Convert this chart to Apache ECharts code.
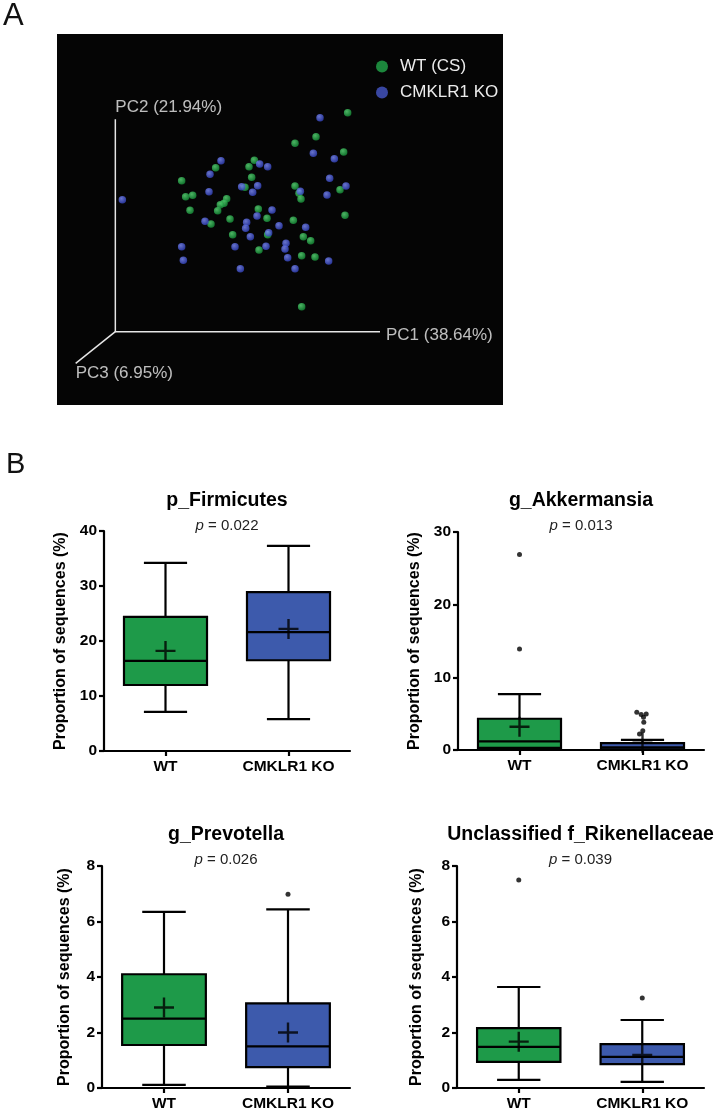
<!DOCTYPE html>
<html><head><meta charset="utf-8">
<script src="https://cdn.jsdelivr.net/npm/echarts/dist/echarts.min.js"></script>
<style>html,body{margin:0;padding:0;background:#fff}#c{width:721px;height:1114px}</style>
</head><body><div id="c"></div>
<script>
// ---------- Panel A: PCoA (projected coordinates, arbitrary units) ----------
const pcoaWT = [[697,657],[602,585],[539,565],[685,539],[417,514],[401,495],[301,492],[409,463],[199,453],[539,437],[674,426],[551,415],[557,398],[232,409],[211,405],[334,399],[326,385],[315,381],[307,363],[224,364],[689,349],[429,368],[455,340],[344,338],[287,323],[534,334],[352,291],[457,291],[564,285],[586,273],[431,245],[559,228],[599,224],[559,75],[389,433]];
const pcoaKO = [[614,642],[594,535],[657,519],[317,513],[433,503],[457,495],[284,472],[643,460],[692,437],[379,435],[427,438],[281,420],[412,418],[555,421],[635,410],[21,396],[470,365],[425,347],[269,331],[394,328],[491,318],[571,313],[391,310],[405,285],[460,297],[199,255],[359,255],[452,256],[512,265],[509,248],[517,222],[204,214],[640,212],[375,189],[539,189]];
const pcAxisLabels = ['PC1 (38.64%)','PC2 (21.94%)','PC3 (6.95%)'];
const pcAxisEnds = [[794,0],[0,637],[-119,-95]];
const pcoaGroups = ['WT (CS)','CMKLR1 KO'];

// ---------- Panel B: box plots [min, Q1, median, Q3, max] ----------
const groups = ['WT','CMKLR1 KO'];
const titles = ['p_Firmicutes','g_Akkermansia','g_Prevotella','Unclassified f_Rikenellaceae'];
const pValues = ['0.022','0.013','0.026','0.039'];
const yMaxes = [40,30,8,8];
const yIntervals = [10,10,2,2];

const firmWT = [7.1, 12.0, 16.4, 24.4, 34.2];
const firmKO = [5.8, 16.5, 21.6, 28.9, 37.3];
const firmMean = [18.2, 22.2];
const firmOutWT = [];
const firmOutKO = [];

const akkWT = [0, 0.3, 1.2, 4.3, 7.7];
const akkKO = [0, 0.1, 0.35, 0.95, 1.4];
const akkMean = [3.2, 1.0];
const akkOutWT = [26.9, 13.9];
const akkOutKO = [5.2, 4.87, 4.97, 4.5, 3.83, 2.66, 2.2];

const prevWT = [0.11, 1.55, 2.5, 4.1, 6.35];
const prevKO = [0.05, 0.75, 1.5, 3.05, 6.44];
const prevMean = [2.9, 2.0];
const prevOutWT = [];
const prevOutKO = [6.98];

const rikWT = [0.29, 0.94, 1.48, 2.16, 3.64];
const rikKO = [0.22, 0.86, 1.12, 1.58, 2.45];
const rikMean = [1.67, 1.19];
const rikOutWT = [7.5];
const rikOutKO = [3.24];

// ---------- styling / layout ----------
const FONT = 'Liberation Sans, Arial, sans-serif';
const boxColors = ['#1e9a49', '#3d5aac'];
const koJitterPx = [-5.7, -1.3, 3.7, 1, 1.3, 0.3, -3]; // horizontal spread of KO dots (Akkermansia)
const gridsB = [
  {left:104, top:531, width:246, height:220},
  {left:458, top:532, width:246, height:218},
  {left:102, top:866, width:248, height:222},
  {left:457, top:866, width:247, height:222}
];
const nameGaps = [35, 35, 29, 32];

const boxSets = [[firmWT, firmKO],[akkWT, akkKO],[prevWT, prevKO],[rikWT, rikKO]];
const meanSets = [firmMean, akkMean, prevMean, rikMean];
const outSets = [[firmOutWT, firmOutKO],[akkOutWT, akkOutKO],[prevOutWT, prevOutKO],[rikOutWT, rikOutKO]];

function sphere(c0, c1){
  return {type:'radial', x:0.38, y:0.35, r:0.65, colorStops:[{offset:0,color:c0},{offset:1,color:c1}]};
}

function renderBox(params, api){
  const i = api.value(0);
  const band = api.size([1,0])[0];
  const bw = band*0.675, cw = bw*0.52;
  const x = api.coord([i, 0])[0];
  const y = k => api.coord([i, api.value(k)])[1];
  const yMin=y(1), yQ1=y(2), yMed=y(3), yQ3=y(4), yMax=y(5);
  const st = {stroke:'#000', lineWidth:2.2};
  return {type:'group', children:[
    {type:'line', shape:{x1:x,y1:yQ3,x2:x,y2:yMax}, style:st},
    {type:'line', shape:{x1:x,y1:yQ1,x2:x,y2:yMin}, style:st},
    {type:'line', shape:{x1:x-cw/2,y1:yMax,x2:x+cw/2,y2:yMax}, style:st},
    {type:'line', shape:{x1:x-cw/2,y1:yMin,x2:x+cw/2,y2:yMin}, style:st},
    {type:'rect', shape:{x:x-bw/2,y:yQ3,width:bw,height:yQ1-yQ3}, style:{fill:boxColors[params.dataIndex], stroke:'#000', lineWidth:2.2}},
    {type:'line', shape:{x1:x-bw/2,y1:yMed,x2:x+bw/2,y2:yMed}, style:st}
  ]};
}

const grid = [{left:57, top:34, width:446, height:371, show:true, backgroundColor:'#050505', borderWidth:0}].concat(gridsB);
const xAxis = [{gridIndex:0, type:'value', min:-175, max:1163, show:false}];
const yAxis = [{gridIndex:0, type:'value', min:-220, max:893, show:false}];
const series = [];

// Panel A series
series.push({type:'line', xAxisIndex:0, yAxisIndex:0, data:[pcAxisEnds[0],[0,0],pcAxisEnds[1]], symbol:'none', lineStyle:{color:'#e6e6e6', width:1.5}, silent:true, z:1});
series.push({type:'line', xAxisIndex:0, yAxisIndex:0, data:[[0,0],pcAxisEnds[2]], symbol:'none', lineStyle:{color:'#e6e6e6', width:1.5}, silent:true, z:1});
const labelPos = [[6,4],[0,-12],[0,10]];
series.push({type:'scatter', xAxisIndex:0, yAxisIndex:0, symbolSize:0, silent:true,
  data: pcAxisEnds.map((p,k)=>({value:p, label:{show:true, formatter:pcAxisLabels[k], position:labelPos[k], align:'left', verticalAlign:'middle', color:'#ececec', fontSize:17, fontFamily:FONT}}))
});
series.push({name:pcoaGroups[0], type:'scatter', xAxisIndex:0, yAxisIndex:0, data:pcoaWT, symbolSize:7.5, itemStyle:{color:sphere('#5fe07c','#17923a')}, z:3});
series.push({name:pcoaGroups[1], type:'scatter', xAxisIndex:0, yAxisIndex:0, data:pcoaKO, symbolSize:7.5, itemStyle:{color:sphere('#8190ff','#3545c0')}, z:4});

const graphic = [
  {type:'text', x:3, y:16, style:{text:'A', font:'normal 31px '+FONT, fill:'#111', textAlign:'left', textVerticalAlign:'middle'}},
  {type:'text', x:6, y:465, style:{text:'B', font:'normal 29px '+FONT, fill:'#111', textAlign:'left', textVerticalAlign:'middle'}}
];
const titleY = [[501,526],[501,526],[835,860],[835,860]];

gridsB.forEach((g,k)=>{
  const gi = k+1;
  xAxis.push({gridIndex:gi, type:'category', data:groups,
    axisLine:{show:true, lineStyle:{color:'#000', width:2.2}},
    axisTick:{show:true, alignWithLabel:true, length:5, lineStyle:{color:'#000', width:2.2}},
    axisLabel:{color:'#000', fontWeight:'bold', fontSize:15.5, fontFamily:FONT, margin:8},
    splitLine:{show:false}});
  yAxis.push({gridIndex:gi, type:'value', min:0, max:yMaxes[k], interval:yIntervals[k],
    name:'Proportion of sequences (%)', nameLocation:'middle', nameRotate:90, nameGap:nameGaps[k],
    nameTextStyle:{color:'#000', fontWeight:'bold', fontSize:16, fontFamily:FONT},
    axisLine:{show:true, lineStyle:{color:'#000', width:2.2}},
    axisTick:{show:true, length:5, lineStyle:{color:'#000', width:2.2}},
    axisLabel:{color:'#000', fontWeight:'bold', fontSize:15.5, fontFamily:FONT, margin:7},
    splitLine:{show:false}});
  series.push({type:'custom', xAxisIndex:gi, yAxisIndex:gi, renderItem:renderBox, clip:false,
    encode:{x:0, y:[1,2,3,4,5]},
    data: boxSets[k].map((b,i)=>[i].concat(b)), z:2});
  series.push({type:'scatter', xAxisIndex:gi, yAxisIndex:gi, silent:true,
    symbol:'path://M0,8.8h20v2.4h-20zM8.8,0h2.4v20h-2.4z', symbolSize:20,
    itemStyle:{color:'#000'}, data: meanSets[k].map((m,i)=>[i,m]), z:5});
  const outs = [];
  outSets[k].forEach((arr,i)=>arr.forEach((v,j)=>{
    const item = {value:[i,v]};
    if (k===1 && i===1) item.symbolOffset = [koJitterPx[j],0];
    outs.push(item);
  }));
  series.push({type:'scatter', xAxisIndex:gi, yAxisIndex:gi, silent:true, symbol:'circle', symbolSize:5,
    itemStyle:{color:'#000'}, data:outs, z:6});
  const cx = g.left + g.width/2;
  graphic.push({type:'text', x:cx, y:titleY[k][0], style:{text:titles[k], font:'bold 19.5px '+FONT, fill:'#000', textAlign:'center', textVerticalAlign:'middle'}});
  graphic.push({type:'text', x:cx, y:titleY[k][1], style:{text:'{i|p} = '+pValues[k], font:'normal 15px '+FONT, fill:'#222', textAlign:'center', textVerticalAlign:'middle',
    rich:{i:{fontStyle:'italic', fontSize:15, fontFamily:FONT, fill:'#222'}}}});
});

const chart = echarts.init(document.getElementById('c'), null, {renderer:'canvas'});
chart.setOption({
  animation:false,
  backgroundColor:'#fff',
  grid, xAxis, yAxis, series, graphic,
  legend:{data:[{name:pcoaGroups[0], itemStyle:{color:'#22a84a'}},{name:pcoaGroups[1], itemStyle:{color:'#4657c9'}}],
    orient:'vertical', left:371, top:53, icon:'circle', itemWidth:12, itemHeight:12, itemGap:9,
    textStyle:{color:'#ececec', fontSize:17, fontFamily:FONT, lineHeight:17, padding:[0,0,0,7]}, selectedMode:false}
});
</script></body></html>
